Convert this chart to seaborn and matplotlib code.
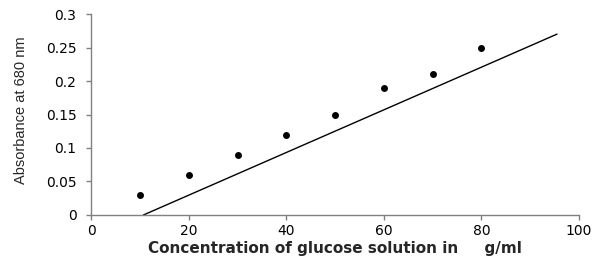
import matplotlib
matplotlib.use("Agg")
import matplotlib.pyplot as plt
import seaborn as sns
import pandas as pd

# Data
concentration = [10, 20, 30, 40, 50, 60, 70, 80]
absorbance = [0.03, 0.06, 0.09, 0.12, 0.15, 0.19, 0.21, 0.25]
fit_x = [10.7, 95.5]
fit_y = [0.0, 0.27]
x_ticks = [0, 20, 40, 60, 80, 100]
y_ticks = [0, 0.05, 0.1, 0.15, 0.2, 0.25, 0.3]
y_tick_labels = ["0", "0.05", "0.1", "0.15", "0.2", "0.25", "0.3"]

sns.set_style("white")
plt.rcParams['font.family'] = ['DejaVu Sans']

fig = plt.figure(figsize=(6.0, 2.58), dpi=100)
ax = fig.add_axes([0.152, 0.1667, 0.813, 0.779])

pts = pd.DataFrame({"x": concentration, "y": absorbance})
fit = pd.DataFrame({"x": fit_x, "y": fit_y})

sns.lineplot(data=fit, x="x", y="y", ax=ax, color="black", linewidth=1.0)
sns.scatterplot(data=pts, x="x", y="y", ax=ax, color="black", s=25,
                marker="o", edgecolor="black", linewidth=0)

ax.set_xlim(0, 100)
ax.set_ylim(0, 0.3)
ax.set_xticks(x_ticks)
ax.set_xticklabels([str(t) for t in x_ticks])
ax.set_yticks(y_ticks)
ax.set_yticklabels(y_tick_labels)

for s in ["top", "right"]:
    ax.spines[s].set_visible(False)
for s in ["left", "bottom"]:
    ax.spines[s].set_color("#808080")
    ax.spines[s].set_linewidth(1.0)

ax.tick_params(axis="both", direction="out", length=3.6, width=1.0,
               color="#808080", labelsize=10, labelcolor="black",
               bottom=True, left=True)
ax.tick_params(axis="y", pad=7)
ax.tick_params(axis="x", pad=3)

ax.set_xlabel("Concentration of glucose solution in     g/ml",
              fontsize=11, fontweight="bold", labelpad=2)
ax.set_ylabel("Absorbance at 680 nm", fontsize=10.5,
              family="Liberation Sans")
ax.yaxis.set_label_coords(-0.13, 0.52)

fig.savefig("out.png", dpi=100)
